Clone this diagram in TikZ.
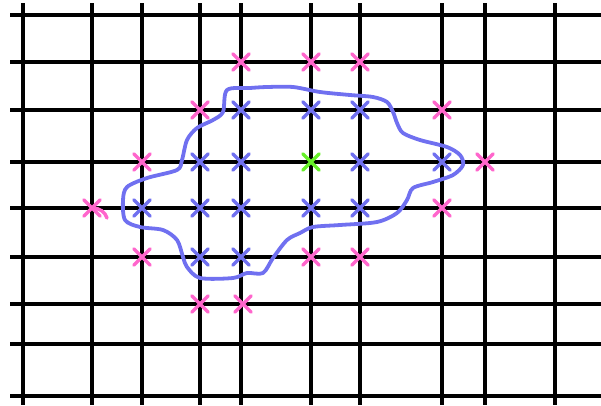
\documentclass[tikz,border=0pt]{standalone}
\usetikzlibrary{shapes.misc}
\definecolor{penpink}{RGB}{255,102,204}
\definecolor{penblue}{RGB}{112,112,240}
\definecolor{pengreen}{RGB}{102,240,40}

\begin{document}
\begin{tikzpicture}[x=1pt, y=-1pt,
    gridline/.style={line width=3.3pt},
    penx/.style={draw, cross out, line width=3.4pt, line cap=round, minimum size=13pt, inner sep=0pt},
    region/.style={draw=penblue, line width=3.8pt, line cap=round, line join=round}
  ]
    \useasboundingbox (0,0) rectangle (601,405);
    % grid
    \foreach \x in {23,92,142,200,241,311,360,442,485,555}
      \draw[gridline] (\x,3) -- (\x,405);
    \foreach \y in {15,62,110,162,208,257,304,344,396}
      \draw[gridline] (10,\y) -- (601,\y);
    % boundary
    \draw[region] plot[smooth cycle, tension=0.5] coordinates {
      (227,90) (250,88) (267,87) (293,87) (320,92) (350,95) (373,97) (387,102)
      (393,112) (397,123) (403,133) (420,140) (447,147) (460,155) (463,165)
      (453,175) (433,182) (413,188) (407,200) (397,213) (377,222) (340,225)
      (313,227) (300,233) (287,240) (273,258) (263,273) (247,273) (233,278)
      (200,278) (187,267) (183,257) (177,240) (163,230) (140,227) (125,220)
      (123,200) (127,187) (147,178) (177,170) (182,160) (187,140) (197,128)
      (213,120) (223,112)};
    % inside points
    \foreach \x/\y [count=\i] in {241/110,311/110,360/110,200/162,241/162,360/162,442/162,
        142/208,200/208,241/208,311/208,360/208,200/257,241/257}
      \node[penx, draw=penblue] (inner\i) at (\x,\y) {};
    % outside points
    \foreach \x/\y [count=\i] in {241/62,311/62,360/62,200/110,442/110,142/162,485/162,
        92/208,442/208,142/257,311/257,360/257,200/304,243/304}
      \node[penx, draw=penpink] (outer\i) at (\x,\y) {};
    \draw[penpink, line width=3.4pt, line cap=round] (outer8.center) .. controls (100,208) and (105,212) .. (107,218);
    % start point
    \node[penx, draw=pengreen] (start) at (311,162) {};
  \end{tikzpicture}
\end{document}
